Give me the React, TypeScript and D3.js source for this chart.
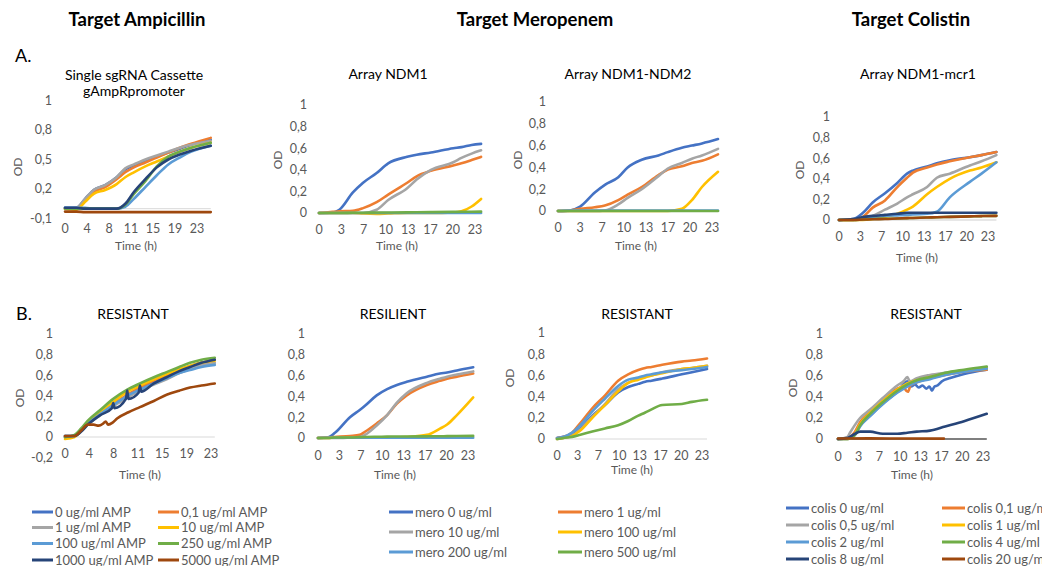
import React from 'react';
import * as d3 from 'd3';

// Excel palette (series order as in legends)
const COLORS = ['#4472C4', '#ED7D31', '#A5A5A5', '#FFC000', '#5B9BD5', '#70AD47', '#264478', '#9E480E'];

const ampLegend = ['0 ug/ml AMP', '0,1 ug/ml AMP', '1 ug/ml AMP', '10 ug/ml AMP', '100 ug/ml AMP', '250 ug/ml AMP', '1000 ug/ml AMP', '5000 ug/ml AMP'];
const meroLegend = ['mero 0 ug/ml', 'mero 1 ug/ml', 'mero 10 ug/ml', 'mero 100 ug/ml', 'mero 200 ug/ml', 'mero 500 ug/ml'];
const colisLegend = ['colis 0 ug/ml', 'colis 0,1 ug/ml', 'colis 0,5 ug/ml', 'colis 1 ug/ml', 'colis 2 ug/ml', 'colis 4 ug/ml', 'colis 8 ug/ml', 'colis 20 ug/ml'];

const ampXTicks = ['0', '4', '8', '11', '15', '19', '23'];
const mcXTicks = ['0', '3', '7', '10', '13', '17', '20', '23'];

// ---------- A1: Single sgRNA Cassette gAmpRpromoter ----------
const a1Times = [0, 2, 3.5, 5, 7, 9, 10.5, 12, 14, 16, 18, 20, 22, 25.4];
const a1Values = [
  [0.01, 0.01, 0.10, 0.19, 0.24, 0.32, 0.40, 0.44, 0.49, 0.53, 0.57, 0.61, 0.65, 0.70],
  [0, 0, 0.08, 0.17, 0.22, 0.30, 0.37, 0.42, 0.47, 0.52, 0.57, 0.62, 0.66, 0.72],
  [0, 0.01, 0.10, 0.19, 0.24, 0.32, 0.41, 0.45, 0.50, 0.54, 0.58, 0.62, 0.65, 0.69],
  [0, -0.01, 0.07, 0.15, 0.19, 0.25, 0.32, 0.37, 0.43, 0.48, 0.53, 0.58, 0.62, 0.67],
  [0.01, 0.01, 0.01, 0, 0, 0, 0.02, 0.10, 0.22, 0.34, 0.45, 0.52, 0.58, 0.64],
  [0, 0, 0, 0, 0, 0, 0.04, 0.15, 0.28, 0.43, 0.53, 0.58, 0.62, 0.67],
  [0.01, 0.01, 0, 0, 0, 0, 0.05, 0.17, 0.30, 0.42, 0.50, 0.55, 0.59, 0.64],
  [-0.03, -0.03, -0.035, -0.035, -0.035, -0.035, -0.035, -0.035, -0.035, -0.035, -0.035, -0.035, -0.035, -0.035],
];
const a1YTicks = [-0.1, 0.2, 0.5, 0.8, 1.1];
const a1YLabels = ['-0,1', '0,2', '0,5', '0,8', '1'];

// ---------- A2: Array NDM1 ----------
const a2Times = [0, 2, 3, 5, 6.5, 8.5, 10.2, 13, 14.4, 16.5, 19.8, 21, 22.5, 23.9];
const a2Values = [
  [0, 0.005, 0.03, 0.19, 0.28, 0.37, 0.46, 0.52, 0.54, 0.56, 0.60, 0.61, 0.63, 0.64],
  [0, 0.01, 0.015, 0.02, 0.045, 0.10, 0.17, 0.28, 0.34, 0.39, 0.44, 0.46, 0.49, 0.52],
  [0, 0, 0, 0, 0, 0.03, 0.12, 0.23, 0.31, 0.40, 0.47, 0.51, 0.55, 0.58],
  [0, 0, 0, 0, -0.005, -0.008, -0.005, 0, 0, 0, 0.005, 0.015, 0.06, 0.13],
  [0, 0, 0, 0, 0, 0, 0, 0, 0, 0, 0, 0, 0, 0],
  [0, 0, 0, 0.002, 0.003, 0.004, 0.005, 0.006, 0.007, 0.008, 0.01, 0.011, 0.012, 0.013],
];

// ---------- A3: Array NDM1-NDM2 ----------
const a3Times = [0, 1.8, 3.3, 5.5, 7, 9, 10.4, 12.5, 15, 16.4, 18.5, 20, 21.5, 23.9];
const a3Values = [
  [0, 0.005, 0.04, 0.17, 0.24, 0.31, 0.40, 0.47, 0.51, 0.54, 0.58, 0.60, 0.62, 0.66],
  [0, 0.005, 0.02, 0.035, 0.05, 0.10, 0.15, 0.22, 0.33, 0.38, 0.41, 0.44, 0.46, 0.52],
  [0, 0, 0, 0, 0.005, 0.06, 0.12, 0.20, 0.32, 0.39, 0.44, 0.48, 0.51, 0.57],
  [0, 0, 0, 0, 0, 0, 0, 0, 0, 0, 0.02, 0.10, 0.22, 0.36],
  [0, 0.003, 0.003, 0.003, 0.003, 0.003, 0.003, 0.003, 0.003, 0.003, 0.003, 0.003, 0.003, 0.003],
  [0, 0, 0, 0, 0, 0, 0, 0, 0, 0, 0, 0, 0, 0],
];

// ---------- A4: Array NDM1-mcr1 ----------
const a4Times = [0, 2.2, 3.7, 5.2, 7.1, 9, 10.5, 11.4, 13.6, 15.1, 17.1, 20.2, 22, 24.3];
const a4Values = [
  [0, 0.01, 0.07, 0.17, 0.26, 0.36, 0.45, 0.48, 0.52, 0.55, 0.58, 0.61, 0.63, 0.66],
  [0, 0, 0.03, 0.12, 0.19, 0.32, 0.41, 0.46, 0.51, 0.54, 0.57, 0.61, 0.63, 0.66],
  [0, 0, 0.01, 0.04, 0.10, 0.16, 0.22, 0.25, 0.32, 0.41, 0.45, 0.53, 0.57, 0.63],
  [0, 0, 0, 0.01, 0.03, 0.06, 0.10, 0.13, 0.25, 0.32, 0.40, 0.48, 0.51, 0.56],
  [0, 0.01, 0.02, 0.03, 0.04, 0.045, 0.05, 0.055, 0.06, 0.08, 0.22, 0.37, 0.45, 0.56],
  [0, 0, 0.005, 0.01, 0.012, 0.015, 0.018, 0.02, 0.024, 0.027, 0.03, 0.035, 0.038, 0.04],
  [0, 0.01, 0.03, 0.04, 0.05, 0.06, 0.07, 0.07, 0.07, 0.07, 0.07, 0.07, 0.07, 0.07],
  [0, 0, 0.005, 0.008, 0.01, 0.015, 0.018, 0.02, 0.024, 0.027, 0.03, 0.035, 0.038, 0.04],
];

// ---------- B1: RESISTANT (ampicillin) ----------
const b1Times = [0, 1.5, 2.5, 3.6, 5.5, 7.6, 9.8, 11.8, 14, 16, 18, 19.7, 21.5, 23.6];
const b1Values = [
  [0.01, 0.01, 0.06, 0.13, 0.22, 0.31, 0.40, 0.47, 0.54, 0.59, 0.64, 0.68, 0.72, 0.75],
  [0, 0.01, 0.06, 0.13, 0.22, 0.32, 0.41, 0.48, 0.55, 0.60, 0.65, 0.69, 0.72, 0.75],
  [0, 0.01, 0.05, 0.12, 0.21, 0.30, 0.38, 0.45, 0.51, 0.56, 0.62, 0.66, 0.70, 0.72],
  [-0.02, 0, 0.06, 0.14, 0.24, 0.34, 0.44, 0.50, 0.56, 0.61, 0.66, 0.69, 0.72, 0.74],
  [0, 0.01, 0.06, 0.13, 0.22, 0.31, 0.40, 0.46, 0.52, 0.57, 0.62, 0.65, 0.68, 0.70],
  [0, 0.02, 0.08, 0.16, 0.26, 0.37, 0.46, 0.52, 0.58, 0.63, 0.68, 0.72, 0.75, 0.77],
];
const b1NavyTimes = [0, 1.5, 2.5, 3.6, 5.5, 7.4, 7.6, 7.8, 9.6, 9.8, 10, 11.6, 11.8, 12, 14, 16, 18, 19.7, 21.5, 23.6];
const b1NavyValues = [0.01, 0.01, 0.05, 0.12, 0.21, 0.28, 0.33, 0.28, 0.37, 0.45, 0.37, 0.43, 0.50, 0.44, 0.52, 0.58, 0.64, 0.68, 0.72, 0.75];
const b1BrownTimes = [0, 1.5, 2.5, 3.6, 4.5, 5.3, 6, 6.4, 6.8, 7.5, 8.2, 10, 11.8, 14, 16, 18, 19.7, 21.5, 23.6];
const b1BrownValues = [0.01, 0.01, 0.06, 0.12, 0.12, 0.11, 0.13, 0.15, 0.12, 0.14, 0.18, 0.24, 0.29, 0.35, 0.41, 0.45, 0.48, 0.50, 0.52];
const b1YTicks = [-0.2, 0, 0.2, 0.4, 0.6, 0.8, 1];
const b1YLabels = ['-0,2', '0', '0,2', '0,4', '0,6', '0,8', '1'];

// ---------- B2: RESILIENT (meropenem) ----------
const b2Times = [0, 1.5, 2.6, 4.9, 6.4, 7.2, 9, 10.6, 12.1, 13.6, 16.7, 18.7, 19.8, 21.3, 23.8];
const b2Values = [
  [0, 0.005, 0.05, 0.20, 0.27, 0.31, 0.41, 0.47, 0.51, 0.54, 0.59, 0.62, 0.63, 0.65, 0.68],
  [0, 0.005, 0.01, 0.02, 0.03, 0.06, 0.14, 0.22, 0.33, 0.41, 0.51, 0.55, 0.57, 0.59, 0.62],
  [0, 0, 0, 0.005, 0.01, 0.03, 0.12, 0.22, 0.34, 0.43, 0.53, 0.57, 0.59, 0.61, 0.64],
  [0, 0, 0.005, 0.005, 0.005, 0.005, 0.005, 0.005, 0.005, 0.01, 0.03, 0.09, 0.13, 0.22, 0.39],
  [0, 0.002, 0.002, 0.002, 0.002, 0.002, 0.002, 0.002, 0.002, 0.002, 0.002, 0.002, 0.002, 0.002, 0.002],
  [0, 0, 0.005, 0.005, 0.008, 0.01, 0.012, 0.013, 0.015, 0.015, 0.016, 0.017, 0.018, 0.019, 0.02],
];

// ---------- B3: RESISTANT (meropenem) ----------
const b3Times = [0, 1, 2.4, 3.7, 5.6, 7.6, 9.7, 11.3, 12.9, 14, 15, 16.7, 19.8, 21.4, 23.8];
const b3Values = [
  [0.01, 0.02, 0.04, 0.10, 0.22, 0.32, 0.44, 0.49, 0.52, 0.54, 0.55, 0.57, 0.61, 0.63, 0.66],
  [0.01, 0.02, 0.06, 0.15, 0.29, 0.41, 0.55, 0.61, 0.65, 0.67, 0.68, 0.70, 0.73, 0.74, 0.76],
  [0, 0.01, 0.03, 0.09, 0.21, 0.33, 0.47, 0.53, 0.57, 0.59, 0.60, 0.63, 0.66, 0.67, 0.69],
  [0, 0.01, 0.03, 0.08, 0.20, 0.32, 0.45, 0.53, 0.56, 0.58, 0.60, 0.62, 0.66, 0.67, 0.69],
  [0.01, 0.02, 0.06, 0.13, 0.26, 0.38, 0.50, 0.56, 0.58, 0.60, 0.61, 0.63, 0.65, 0.66, 0.68],
  [0, 0.01, 0.02, 0.04, 0.07, 0.10, 0.13, 0.17, 0.22, 0.25, 0.28, 0.32, 0.33, 0.35, 0.37],
];

// ---------- B4: RESISTANT (colistin) ----------
const b4Times = [0, 1.5, 2.7, 3.5, 5.1, 7.1, 9.4, 11, 12.5, 14.6, 17, 20, 23.6];
const b4BlueTimes = [0, 1.5, 2.7, 3.5, 5.1, 7.1, 9.4, 11, 11.6, 12.2, 12.8, 13.4, 14, 14.5, 14.9, 15.3, 15.8, 16.5, 17.8, 20, 23.6];
const b4BlueValues = [0, 0.01, 0.05, 0.13, 0.22, 0.34, 0.45, 0.55, 0.50, 0.52, 0.49, 0.51, 0.48, 0.50, 0.46, 0.50, 0.51, 0.55, 0.58, 0.62, 0.66];
const b4OrangeTimes = [0, 1.5, 2.7, 3.5, 5.1, 7.1, 9.4, 10.4, 10.8, 11.1, 11.5, 12.5, 14.6, 17, 20, 23.6];
const b4OrangeValues = [0, 0.01, 0.07, 0.16, 0.26, 0.37, 0.48, 0.50, 0.46, 0.45, 0.51, 0.54, 0.58, 0.61, 0.64, 0.66];
const b4GrayTimes = [0, 1.5, 1.9, 3.5, 5.1, 7.1, 9.4, 10.4, 11, 11.4, 12.5, 14.6, 17, 20, 23.6];
const b4GrayValues = [0, 0.02, 0.06, 0.20, 0.28, 0.39, 0.51, 0.55, 0.59, 0.55, 0.58, 0.61, 0.63, 0.65, 0.68];
const b4Yellow = [0, 0, 0.05, 0.14, 0.25, 0.36, 0.47, 0.53, 0.56, 0.59, 0.62, 0.65, 0.67];
const b4LightBlue = [0, 0, 0.04, 0.12, 0.22, 0.33, 0.44, 0.50, 0.54, 0.57, 0.61, 0.64, 0.67];
const b4Green = [0, 0, 0.04, 0.13, 0.24, 0.35, 0.46, 0.52, 0.56, 0.59, 0.63, 0.66, 0.69];
const b4Navy = [0, 0.01, 0.05, 0.07, 0.07, 0.05, 0.05, 0.06, 0.07, 0.08, 0.12, 0.17, 0.24];
const b4BrownTimes = [0, 5, 10, 16.8];
const b4BrownValues = [0.005, 0.006, 0.005, 0.004];

const stdYTicks = [0, 0.2, 0.4, 0.6, 0.8, 1];
const stdYLabels = ['0', '0,2', '0,4', '0,6', '0,8', '1'];

type Series = { ci: number; t: number[]; v: number[] };
type Panel = {
  x0: number; x23: number;
  yDomain: [number, number]; yRange: [number, number];
  yTicks: number[]; yLabels: string[]; yLabelRight: number;
  xTicks: string[]; xLabelY: number;
  timeLabel: [number, number];
  od: [number, number] | null;
  title: string[]; titleX: number; titleY: number;
  series: Series[];
  axisColor: string; axisWidth: number; axisEnd: number;
};

const fromTable = (times: number[], values: number[][]): Series[] =>
  values.map((v, ci) => ({ ci, t: times, v }));

const panels: Panel[] = [
  {
    x0: 65, x23: 197, yDomain: [-0.1, 1.1], yRange: [218.5, 100.5],
    yTicks: a1YTicks, yLabels: a1YLabels, yLabelRight: 52,
    xTicks: ampXTicks, xLabelY: 229, timeLabel: [136, 246], od: [18, 167],
    title: ['Single sgRNA Cassette', 'gAmpRpromoter'], titleX: 134, titleY: 80,
    series: fromTable(a1Times, a1Values), axisColor: '#d9d9d9', axisWidth: 1, axisEnd: 25.4,
  },
  {
    x0: 319, x23: 475, yDomain: [0, 1], yRange: [213, 105],
    yTicks: stdYTicks, yLabels: stdYLabels, yLabelRight: 307,
    xTicks: mcXTicks, xLabelY: 230, timeLabel: [397, 246], od: [278, 160],
    title: ['Array NDM1'], titleX: 388, titleY: 79,
    series: fromTable(a2Times, a2Values), axisColor: '#d9d9d9', axisWidth: 1, axisEnd: 23.9,
  },
  {
    x0: 558, x23: 712, yDomain: [0, 1], yRange: [211, 102],
    yTicks: stdYTicks, yLabels: stdYLabels, yLabelRight: 546,
    xTicks: mcXTicks, xLabelY: 228, timeLabel: [636, 246], od: [518, 160],
    title: ['Array NDM1-NDM2'], titleX: 628, titleY: 79,
    series: fromTable(a3Times, a3Values), axisColor: '#d9d9d9', axisWidth: 1, axisEnd: 23.9,
  },
  {
    x0: 839, x23: 988, yDomain: [0, 1], yRange: [220, 117],
    yTicks: stdYTicks, yLabels: stdYLabels, yLabelRight: 830,
    xTicks: mcXTicks, xLabelY: 237, timeLabel: [917, 258], od: [800, 170],
    title: ['Array NDM1-mcr1'], titleX: 918, titleY: 79,
    series: fromTable(a4Times, a4Values), axisColor: '#d0d0d0', axisWidth: 1.2, axisEnd: 24.3,
  },
  {
    x0: 65, x23: 211, yDomain: [-0.2, 1], yRange: [457.6, 334],
    yTicks: b1YTicks, yLabels: b1YLabels, yLabelRight: 53,
    xTicks: ampXTicks, xLabelY: 454, timeLabel: [140, 475], od: [20, 398],
    title: ['RESISTANT'], titleX: 133, titleY: 319,
    series: [
      ...fromTable(b1Times, b1Values),
      { ci: 6, t: b1NavyTimes, v: b1NavyValues },
      { ci: 7, t: b1BrownTimes, v: b1BrownValues },
    ],
    axisColor: '#d9d9d9', axisWidth: 1, axisEnd: 23.6,
  },
  {
    x0: 318, x23: 468, yDomain: [0, 1], yRange: [438, 334],
    yTicks: stdYTicks, yLabels: stdYLabels, yLabelRight: 305,
    xTicks: mcXTicks, xLabelY: 456, timeLabel: [395, 475], od: null,
    title: ['RESILIENT'], titleX: 393, titleY: 319,
    series: fromTable(b2Times, b2Values), axisColor: '#d9d9d9', axisWidth: 1, axisEnd: 23.8,
  },
  {
    x0: 557, x23: 702, yDomain: [0, 1], yRange: [439, 333],
    yTicks: stdYTicks, yLabels: stdYLabels, yLabelRight: 545,
    xTicks: mcXTicks, xLabelY: 456, timeLabel: [632, 470], od: [510, 378],
    title: ['RESISTANT'], titleX: 637, titleY: 319,
    series: fromTable(b3Times, b3Values), axisColor: '#d9d9d9', axisWidth: 1, axisEnd: 23.8,
  },
  {
    x0: 838, x23: 983, yDomain: [0, 1], yRange: [439, 334],
    yTicks: stdYTicks, yLabels: stdYLabels, yLabelRight: 823,
    xTicks: mcXTicks, xLabelY: 457, timeLabel: [912, 475], od: [793, 388],
    title: ['RESISTANT'], titleX: 926, titleY: 319,
    series: [
      { ci: 0, t: b4BlueTimes, v: b4BlueValues },
      { ci: 1, t: b4OrangeTimes, v: b4OrangeValues },
      { ci: 2, t: b4GrayTimes, v: b4GrayValues },
      { ci: 3, t: b4Times, v: b4Yellow },
      { ci: 4, t: b4Times, v: b4LightBlue },
      { ci: 5, t: b4Times, v: b4Green },
      { ci: 6, t: b4Times, v: b4Navy },
      { ci: 7, t: b4BrownTimes, v: b4BrownValues },
    ],
    axisColor: '#7f7f7f', axisWidth: 2, axisEnd: 23.6,
  },
];

type Legend = { items: string[]; cols: [number, number]; rows: number[]; lineLen: number };
const legends: Legend[] = [
  { items: ampLegend, cols: [32, 158], rows: [512, 527.5, 543.5, 560], lineLen: 21 },
  { items: meroLegend, cols: [389, 558], rows: [512, 532, 552], lineLen: 24 },
  { items: colisLegend, cols: [786, 942], rows: [508, 525, 542, 559], lineLen: 23 },
];

const FONT = 'Lato, "Open Sans", sans-serif';
const GREY = '#595959';

function PanelView({ p }: { p: Panel }) {
  const x = d3.scaleLinear().domain([0, 23]).range([p.x0, p.x23]);
  const y = d3.scaleLinear().domain(p.yDomain).range(p.yRange);
  const line = d3
    .line<[number, number]>()
    .x((d) => x(d[0]))
    .y((d) => y(d[1]))
    .curve(d3.curveMonotoneX);
  const step = 23 / (p.xTicks.length - 1);
  return (
    <g>
      {p.title.map((t, i) => (
        <text key={'t' + i} x={p.titleX} y={p.titleY + i * 16} textAnchor="middle" fontSize={14} fill="#000">
          {t}
        </text>
      ))}
      {p.yTicks.map((v, i) => (
        <text key={'y' + i} x={p.yLabelRight} y={y(v)} dy="0.35em" textAnchor="end" fontSize={12.5} fill={GREY}>
          {p.yLabels[i]}
        </text>
      ))}
      {p.xTicks.map((lab, i) => (
        <text key={'x' + i} x={x(i * step)} y={p.xLabelY} dy="0.35em" textAnchor="middle" fontSize={12.5} fill={GREY}>
          {lab}
        </text>
      ))}
      <line x1={x(0)} x2={x(p.axisEnd)} y1={y(0)} y2={y(0)} stroke={p.axisColor} strokeWidth={p.axisWidth} />
      {p.series.map((s, i) => (
        <path
          key={'s' + i}
          d={line(s.t.map((t, j) => [t, s.v[j]] as [number, number])) || ''}
          fill="none"
          stroke={COLORS[s.ci]}
          strokeWidth={2.6}
          strokeLinejoin="round"
          strokeLinecap="round"
        />
      ))}
      <text x={p.timeLabel[0]} y={p.timeLabel[1]} dy="0.35em" textAnchor="middle" fontSize={12} fill={GREY}>
        Time (h)
      </text>
      {p.od && (
        <text
          transform={`translate(${p.od[0]},${p.od[1]}) rotate(-90)`}
          dy="0.35em"
          textAnchor="middle"
          fontSize={12}
          fill={GREY}
        >
          OD
        </text>
      )}
    </g>
  );
}

function LegendView({ l }: { l: Legend }) {
  return (
    <g>
      {l.items.map((name, i) => {
        const cx = l.cols[i % 2];
        const cy = l.rows[Math.floor(i / 2)];
        return (
          <g key={i}>
            <line x1={cx} x2={cx + l.lineLen} y1={cy} y2={cy} stroke={COLORS[i]} strokeWidth={3} />
            <text x={cx + l.lineLen + 2} y={cy} dy="0.35em" fontSize={13} fill={GREY}>
              {name}
            </text>
          </g>
        );
      })}
    </g>
  );
}

export default function App() {
  return (
    <svg
      width={1042}
      height={566}
      viewBox="0 0 1042 566"
      style={{ position: 'absolute', left: 0, top: 0, background: '#fff' }}
      fontFamily={FONT}
    >
      <rect width={1042} height={566} fill="#fff" />
      <text x={137} y={26} textAnchor="middle" fontSize={18.5} fontWeight="bold" fill="#000">Target Ampicillin</text>
      <text x={535} y={26} textAnchor="middle" fontSize={18.5} fontWeight="bold" fill="#000">Target Meropenem</text>
      <text x={911} y={26} textAnchor="middle" fontSize={18.5} fontWeight="bold" fill="#000">Target Colistin</text>
      <text x={15} y={62} fontSize={18} fill="#000">A.</text>
      <text x={16} y={320} fontSize={18} fill="#000">B.</text>
      {panels.map((p, i) => (
        <PanelView key={i} p={p} />
      ))}
      {legends.map((l, i) => (
        <LegendView key={i} l={l} />
      ))}
    </svg>
  );
}
